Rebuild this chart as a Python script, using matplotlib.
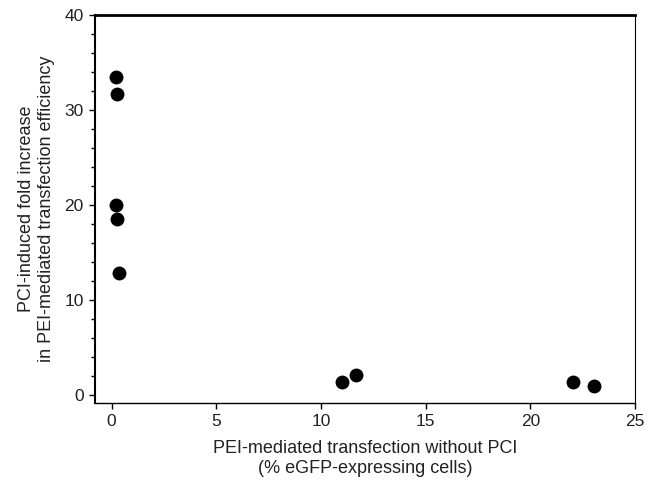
import matplotlib
matplotlib.use("Agg")
import matplotlib.pyplot as plt
from matplotlib.ticker import MultipleLocator

plt.rcParams['font.family'] = ['Liberation Sans', 'DejaVu Sans']

x_vals = [0.19, 0.25, 0.19, 0.27, 0.35, 11.0, 11.66, 22.04, 23.05]
y_vals = [33.5, 31.65, 20.0, 18.5, 12.8, 1.34, 2.1, 1.4, 0.98]
x_ticks = [0, 5, 10, 15, 20, 25]
y_ticks = [0, 10, 20, 30, 40]

fig = plt.figure(figsize=(6.59, 4.82), dpi=100)
ax = fig.add_axes([0.144, 0.164, 0.8196, 0.805])
ax.scatter(x_vals, y_vals, s=100, color='black', zorder=3, linewidths=0)
ax.set_xlim(-0.8, 25)
ax.set_ylim(-0.84, 40)
ax.set_xticks(x_ticks)
ax.set_yticks(y_ticks)
ax.yaxis.set_minor_locator(MultipleLocator(2))
ax.tick_params(axis='both', which='major', direction='out', length=4, width=1,
               labelsize=12.5, colors='black', labelcolor='#222222', pad=4)
ax.tick_params(axis='y', which='minor', direction='out', length=3, width=1)
ax.spines['top'].set_linewidth(2)
ax.spines['left'].set_linewidth(1.5)
ax.spines['right'].set_linewidth(0.8)
ax.spines['bottom'].set_linewidth(1.0)
ax.set_xlabel('PEI-mediated transfection without PCI\n(% eGFP-expressing cells)',
              fontsize=13, labelpad=8, color='#222222')
ax.set_ylabel('PCI-induced fold increase\nin PEI-mediated transfection efficiency',
              fontsize=13, labelpad=7, color='#222222')
fig.savefig('out.png', dpi=100)
